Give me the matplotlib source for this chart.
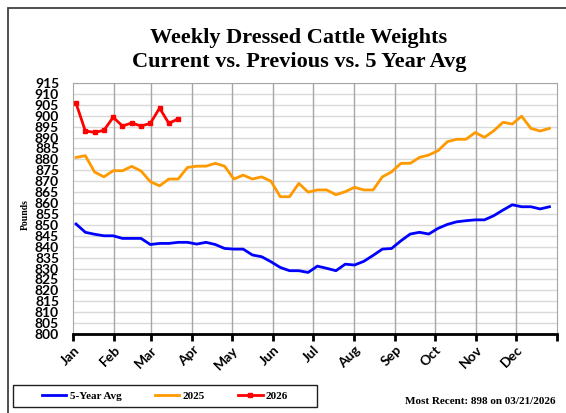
import matplotlib.pyplot as plt
import matplotlib.patches as patches

# weekly values (week 1..52)
avg5 = [850.4, 846.6, 845.7, 845.0, 845.0, 843.8, 843.8, 843.8, 841.0, 841.5,
        841.5, 842.0, 842.0, 841.2, 842.0, 841.0, 839.2, 838.9, 838.9, 836.2,
        835.4, 833.1, 830.5, 829.0, 829.0, 828.2, 831.1, 830.1, 829.0, 832.0,
        831.6, 833.3, 836.0, 838.9, 839.2, 842.7, 845.8, 846.6, 845.8, 848.4,
        850.2, 851.4, 851.9, 852.3, 852.3, 854.2, 856.8, 859.2, 858.3, 858.3,
        857.3, 858.3]
y2025 = [880.9, 881.7, 874.2, 872.0, 874.8, 874.8, 876.8, 874.7, 869.8, 867.9,
         871.0, 871.0, 876.3, 876.9, 876.9, 878.2, 876.9, 871.0, 872.8, 871.0,
         872.0, 870.0, 862.9, 862.9, 869.0, 865.0, 866.0, 866.0, 863.8, 865.2,
         867.2, 866.0, 866.0, 872.0, 874.3, 878.2, 878.2, 880.9, 882.0, 884.0,
         888.1, 889.2, 889.2, 892.3, 890.1, 893.1, 897.0, 896.2, 899.8, 894.2,
         893.0, 894.2]
y2026 = [905.7, 893.0, 892.4, 893.3, 899.3, 895.3, 896.7, 895.3, 896.5, 903.5,
         896.5, 898.6]

months = ['Jan', 'Feb', 'Mar', 'Apr', 'May', 'Jun', 'Jul', 'Aug', 'Sep', 'Oct', 'Nov', 'Dec']
month_start = [0, 31, 59, 90, 120, 151, 181, 212, 243, 273, 304, 334]

day = lambda n: [2.3 + 7 * i for i in range(n)]

fig = plt.figure(figsize=(5.66, 4.13), dpi=100)
ax = fig.add_axes([73 / 566, 79 / 413, 484 / 566, 251 / 413])

ax.plot(day(len(avg5)), avg5, color='#0000ff', lw=2, label='5-Year Avg', zorder=3)
ax.plot(day(len(y2025)), y2025, color='#ff9900', lw=2, label='2025', zorder=3)
ax.plot(day(len(y2026)), y2026, color='#ff0000', lw=2, marker='s', ms=3.5,
        label='2026', zorder=4)

ax.set_xlim(0, 365)
ax.set_ylim(800, 915)
ax.set_yticks(range(800, 916, 5))
ax.set_xticks(month_start + [365])
ax.set_xticklabels(months + [''])
ax.grid(axis='y', color='#d9d9d9', lw=1)
for d in month_start[1:]:
    ax.axvline(d, color='#a6a6a6', lw=1, zorder=1)
ax.set_axisbelow(True)

for s in ['left', 'right', 'top']:
    ax.spines[s].set_color('#a6a6a6')
ax.spines['bottom'].set_color('black')
ax.spines['bottom'].set_linewidth(2)

ax.tick_params(axis='y', length=0, pad=10)
ax.tick_params(axis='x', length=5, width=2, direction='out', pad=2)
for lab in ax.get_yticklabels():
    lab.set_fontfamily('Lato')
    lab.set_fontweight('bold')
    lab.set_fontsize(10)
for lab in ax.get_xticklabels():
    lab.set_fontfamily('Lato')
    lab.set_fontweight('bold')
    lab.set_fontsize(10)
    lab.set_rotation(45)
    lab.set_ha('right')
    lab.set_rotation_mode('anchor')

fig.text(25 / 566, 1 - 215 / 413, 'Pounds', rotation=90, va='center', ha='center',
         family='Liberation Serif', fontweight='bold', fontsize=7)

fig.text(0.528, 1 - 38 / 413, 'Weekly Dressed Cattle Weights', ha='center', va='center',
         family='Liberation Serif', fontweight='bold', fontsize=16)
fig.text(0.528, 1 - 62 / 413, 'Current vs. Previous vs. 5 Year Avg', ha='center', va='center',
         family='Liberation Serif', fontweight='bold', fontsize=16)

# outer frame and legend box
fig.patches.append(patches.Rectangle((8 / 566, -0.1), 1.2, 1.1 - 8 / 413,
                                     transform=fig.transFigure, fill=False,
                                     ec='#404040', lw=1.3))
fig.patches.append(patches.Rectangle((13 / 566, 6 / 413), 304 / 566, 22 / 413,
                                     transform=fig.transFigure, fill=False,
                                     ec='#202020', lw=1))
fig.legend(loc='center', bbox_to_anchor=(165 / 566, 17 / 413), ncol=3, frameon=False,
           prop={'family': 'Liberation Serif', 'weight': 'bold', 'size': 8},
           handlelength=2.2, handletextpad=0.3, columnspacing=3.0)

fig.text(405 / 566, 7 / 413, 'Most Recent: 898 on 03/21/2026', ha='left', va='bottom',
         family='Liberation Serif', fontweight='bold', fontsize=8)

fig.savefig('out.png', dpi=100)
